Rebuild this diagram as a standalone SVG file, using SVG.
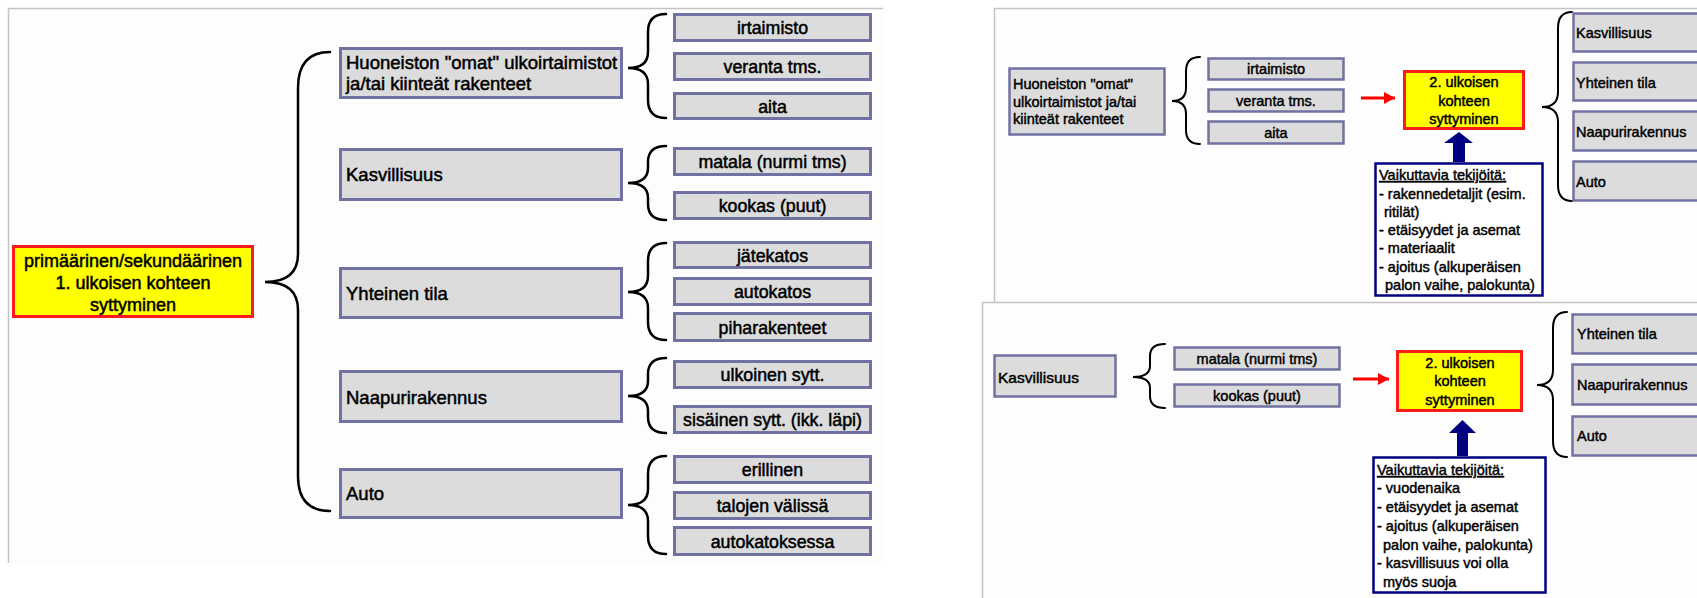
<svg xmlns="http://www.w3.org/2000/svg" width="1697" height="598" viewBox="0 0 1697 598">
<defs>
<style>
.bg{fill:#fdfdfd;stroke:none}
.edge{stroke:#c4c4c4;stroke-width:1.5;fill:none}
.box{fill:#dcdcdc;stroke:#7171a3;stroke-width:3}
.boxs{fill:#dcdcdc;stroke:#7171a3;stroke-width:2.5}
.main{fill:#ffff00;stroke:#ff1a1a;stroke-width:3}
.fact{fill:#ffffff;stroke:#000080;stroke-width:2.5}
.brace{fill:none;stroke:#000;stroke-width:2.5;stroke-linecap:round}
.braces{fill:none;stroke:#000;stroke-width:2;stroke-linecap:round}
.red{stroke:#ff0000;stroke-width:3;fill:none}
.blue{fill:#000080;stroke:none}
text{font-family:"Liberation Sans",Arial,sans-serif;font-weight:normal;fill:#000;stroke:#000;stroke-width:0.5}
.m18{font-size:18px}
.l18{font-size:17.8px}
.r18{font-size:18.5px}
.s14{font-size:14.5px;stroke-width:0.45}
.r15{font-size:15.5px;stroke-width:0.45}
.c{text-anchor:middle}
.u{text-decoration:underline}
</style>
<marker id="redhead" markerUnits="userSpaceOnUse" markerWidth="12" markerHeight="12" refX="11" refY="6" orient="auto">
<path d="M0,0 L11,6 L0,12 Z" fill="#ff0000"/>
</marker>
</defs>
<rect x="0" y="0" width="1697" height="598" fill="#ffffff"/>
<g id="panels">
<rect class="bg" x="8" y="8" width="875" height="555"/>
<path class="edge" d="M883,8.5 H8.5 V563"/>
<rect class="bg" x="994" y="8" width="703" height="294"/>
<path class="edge" d="M1697,8.5 H994.5 V302"/>
<rect class="bg" x="982" y="302" width="715" height="296"/>
<path class="edge" d="M1697,302.5 H982.5 V598"/>
</g>
<g id="connectors">
<path class="brace" d="M330,52 Q298,52 298,88 L298,254 Q298,282 265,282 Q298,282 298,310 L298,476 Q298,511 330,511"/>
<path class="brace" d="M666,14 Q648,14 648,32 L648,52 Q648,68 628,68 Q648,68 648,84 L648,100 Q648,118 666,118"/>
<path class="brace" d="M666,146 Q648,146 648,162 L648,168 Q648,183 628,183 Q648,183 648,198 L648,204 Q648,220 666,220"/>
<path class="brace" d="M666,243 Q648,243 648,261 L648,276 Q648,292 628,292 Q648,292 648,308 L648,322 Q648,340 666,340"/>
<path class="brace" d="M666,358 Q648,358 648,374 L648,381 Q648,396 628,396 Q648,396 648,411 L648,417 Q648,433 666,433"/>
<path class="brace" d="M666,456 Q648,456 648,474 L648,489 Q648,505 628,505 Q648,505 648,521 L648,536 Q648,554 666,554"/>
<path class="braces" d="M1200,57 Q1186,57 1186,71 L1186,88 Q1186,101 1172,101 Q1186,101 1186,114 L1186,130 Q1186,144 1200,144"/>
<path class="braces" d="M1572,12 Q1558,12 1558,28 L1558,92 Q1558,107 1542,107 Q1558,107 1558,122 L1558,185 Q1558,201 1572,201"/>
<path class="braces" d="M1165,344 Q1150,344 1150,356 L1150,366 Q1150,377 1133,377 Q1150,377 1150,388 L1150,396 Q1150,408 1165,408"/>
<path class="braces" d="M1567,312 Q1553,312 1553,328 L1553,370 Q1553,385 1537,385 Q1553,385 1553,400 L1553,441 Q1553,457 1567,457"/>
<line class="red" x1="1361" y1="98" x2="1395" y2="98" marker-end="url(#redhead)"/>
<line class="red" x1="1353" y1="379" x2="1389" y2="379" marker-end="url(#redhead)"/>
<polygon class="blue" points="1459,132 1473,143 1465,143 1465,162 1453,162 1453,143 1444,143"/>
<polygon class="blue" points="1462.5,420 1476,433 1468,433 1468,456 1457,456 1457,433 1449,433"/>
</g>
<g id="n-main1">
<rect class="main" x="13.5" y="246.5" width="239" height="70"/>
<text class="m18 c" x="133" y="266.5">primäärinen/sekundäärinen</text>
<text class="m18 c" x="133" y="288.5">1. ulkoisen kohteen</text>
<text class="m18 c" x="133" y="310.5">syttyminen</text>
</g>
<g id="n-huoneisto">
<rect class="box" x="340.5" y="48.5" width="281" height="49"/>
<text class="r18" x="346" y="68.5">Huoneiston "omat" ulkoirtaimistot</text>
<text class="r18" x="346" y="89.5">ja/tai kiinteät rakenteet</text>
</g>
<g id="n-kasvillisuus">
<rect class="box" x="340.5" y="149.5" width="281" height="50"/>
<text class="r18" x="346" y="181">Kasvillisuus</text>
</g>
<g id="n-yhteinen">
<rect class="box" x="340.5" y="268.5" width="281" height="49"/>
<text class="r18" x="346" y="300">Yhteinen tila</text>
</g>
<g id="n-naapuri">
<rect class="box" x="340.5" y="371.5" width="281" height="50"/>
<text class="r18" x="346" y="404">Naapurirakennus</text>
</g>
<g id="n-auto">
<rect class="box" x="340.5" y="469.5" width="281" height="48"/>
<text class="r18" x="346" y="500">Auto</text>
</g>
<g id="n-irtaimisto"><rect class="box" x="674.5" y="14.5" width="196" height="26"/><text class="l18 c" x="772.5" y="34">irtaimisto</text></g>
<g id="n-veranta"><rect class="box" x="674.5" y="53.5" width="196" height="26"/><text class="l18 c" x="772.5" y="73">veranta tms.</text></g>
<g id="n-aita"><rect class="box" x="674.5" y="93.5" width="196" height="25"/><text class="l18 c" x="772.5" y="112.5">aita</text></g>
<g id="n-matala"><rect class="box" x="674.5" y="148.5" width="196" height="26"/><text class="l18 c" x="772.5" y="168">matala (nurmi tms)</text></g>
<g id="n-kookas"><rect class="box" x="674.5" y="192.5" width="196" height="26"/><text class="l18 c" x="772.5" y="212">kookas (puut)</text></g>
<g id="n-jatekatos"><rect class="box" x="674.5" y="242.5" width="196" height="25"/><text class="l18 c" x="772.5" y="261.5">jätekatos</text></g>
<g id="n-autokatos"><rect class="box" x="674.5" y="278.5" width="196" height="26"/><text class="l18 c" x="772.5" y="298">autokatos</text></g>
<g id="n-piha"><rect class="box" x="674.5" y="313.5" width="196" height="27"/><text class="l18 c" x="772.5" y="333.5">piharakenteet</text></g>
<g id="n-ulkoinen"><rect class="box" x="674.5" y="361.5" width="196" height="26"/><text class="l18 c" x="772.5" y="381">ulkoinen sytt.</text></g>
<g id="n-sisainen"><rect class="box" x="674.5" y="406.5" width="196" height="26"/><text class="l18 c" x="772.5" y="426">sisäinen sytt. (ikk. läpi)</text></g>
<g id="n-erillinen"><rect class="box" x="674.5" y="456.5" width="196" height="26"/><text class="l18 c" x="772.5" y="476">erillinen</text></g>
<g id="n-talojen"><rect class="box" x="674.5" y="492.5" width="196" height="26"/><text class="l18 c" x="772.5" y="512">talojen välissä</text></g>
<g id="n-autokatoksessa"><rect class="box" x="674.5" y="527.5" width="196" height="27"/><text class="l18 c" x="772.5" y="547.5">autokatoksessa</text></g>

<g id="r1-huoneisto">
<rect class="boxs" x="1009.5" y="68.5" width="155" height="66"/>
<text class="s14" x="1013" y="89">Huoneiston "omat"</text>
<text class="s14" x="1013" y="107">ulkoirtaimistot ja/tai</text>
<text class="s14" x="1013" y="124">kiinteät rakenteet</text>
</g>
<g id="r1-irtaimisto"><rect class="boxs" x="1208.5" y="58.5" width="135" height="21"/><text class="s14 c" x="1276" y="74">irtaimisto</text></g>
<g id="r1-veranta"><rect class="boxs" x="1208.5" y="89.5" width="135" height="22"/><text class="s14 c" x="1276" y="105.5">veranta tms.</text></g>
<g id="r1-aita"><rect class="boxs" x="1208.5" y="121.5" width="135" height="22"/><text class="s14 c" x="1276" y="137.5">aita</text></g>
<g id="r1-main2">
<rect class="main" x="1404.5" y="71.5" width="119" height="57"/>
<text class="s14 c" x="1464" y="87">2. ulkoisen</text>
<text class="s14 c" x="1464" y="106">kohteen</text>
<text class="s14 c" x="1464" y="124">syttyminen</text>
</g>
<g id="r1-factors">
<rect class="fact" x="1375.5" y="163.5" width="167" height="132"/>
<text class="s14 u" x="1379" y="180">Vaikuttavia tekijöitä:</text>
<text class="s14" x="1379" y="199">- rakennedetaljit (esim.</text>
<text class="s14" x="1384" y="217">ritilät)</text>
<text class="s14" x="1379" y="235">- etäisyydet ja asemat</text>
<text class="s14" x="1379" y="253">- materiaalit</text>
<text class="s14" x="1379" y="272">- ajoitus (alkuperäisen</text>
<text class="s14" x="1385" y="290">palon vaihe, palokunta)</text>
</g>
<g id="r1-kasvillisuus"><rect class="boxs" x="1573.5" y="13.5" width="140" height="38"/><text class="s14" x="1576" y="38">Kasvillisuus</text></g>
<g id="r1-yhteinen"><rect class="boxs" x="1573.5" y="62.5" width="140" height="38"/><text class="s14" x="1576" y="88">Yhteinen tila</text></g>
<g id="r1-naapuri"><rect class="boxs" x="1573.5" y="111.5" width="140" height="39"/><text class="s14" x="1576" y="137">Naapurirakennus</text></g>
<g id="r1-auto"><rect class="boxs" x="1573.5" y="161.5" width="140" height="39"/><text class="s14" x="1576" y="187">Auto</text></g>

<g id="r2-kasvillisuus"><rect class="boxs" x="994.5" y="355.5" width="121" height="41"/><text class="r15" x="998" y="382.5">Kasvillisuus</text></g>
<g id="r2-matala"><rect class="boxs" x="1174.5" y="347.5" width="165" height="22"/><text class="s14 c" x="1257" y="363.5">matala (nurmi tms)</text></g>
<g id="r2-kookas"><rect class="boxs" x="1174.5" y="384.5" width="165" height="22"/><text class="s14 c" x="1257" y="401">kookas (puut)</text></g>
<g id="r2-main2">
<rect class="main" x="1397.5" y="351.5" width="124" height="59"/>
<text class="s14 c" x="1460" y="368">2. ulkoisen</text>
<text class="s14 c" x="1460" y="386">kohteen</text>
<text class="s14 c" x="1460" y="405">syttyminen</text>
</g>
<g id="r2-factors">
<rect class="fact" x="1373.5" y="457.5" width="172" height="135"/>
<text class="s14 u" x="1377" y="475">Vaikuttavia tekijöitä:</text>
<text class="s14" x="1377" y="493">- vuodenaika</text>
<text class="s14" x="1377" y="512">- etäisyydet ja asemat</text>
<text class="s14" x="1377" y="531">- ajoitus (alkuperäisen</text>
<text class="s14" x="1383" y="550">palon vaihe, palokunta)</text>
<text class="s14" x="1377" y="568">- kasvillisuus voi olla</text>
<text class="s14" x="1383" y="587">myös suoja</text>
</g>
<g id="r2-yhteinen"><rect class="boxs" x="1572.5" y="314.5" width="140" height="39"/><text class="s14" x="1577" y="339">Yhteinen tila</text></g>
<g id="r2-naapuri"><rect class="boxs" x="1572.5" y="364.5" width="140" height="40"/><text class="s14" x="1577" y="390">Naapurirakennus</text></g>
<g id="r2-auto"><rect class="boxs" x="1572.5" y="416.5" width="140" height="39"/><text class="s14" x="1577" y="441">Auto</text></g>
</svg>
